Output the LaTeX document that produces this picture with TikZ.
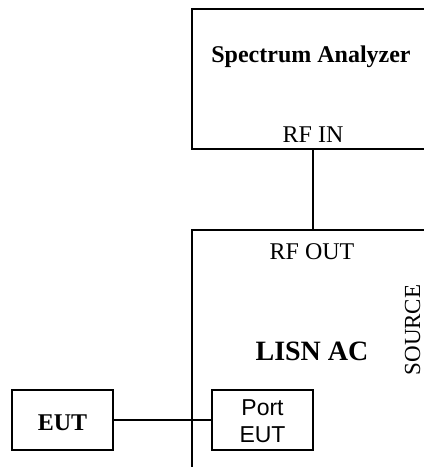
\documentclass[tikz,border=0pt]{standalone}
\usepackage{fontspec}
\setmainfont{Liberation Serif}
\newfontfamily\armfont{Liberation Sans}
\usetikzlibrary{positioning, calc}

\begin{document}
\begin{tikzpicture}[
    x=1pt, y=-1pt,
    unitbox/.style={rectangle, draw=black, line width=1.5pt, fill=white,
                 inner sep=0pt},
    title/.style={font=\fontsize{24}{26}\selectfont\bfseries, anchor=base,
                 inner sep=0pt},
    portlbl/.style={font=\fontsize{24}{26}\selectfont, anchor=base,
                 inner sep=0pt},
    wire/.style={draw=black, line width=1.5pt},
  ]
    \useasboundingbox (0,0) rectangle (424,467);
    \clip (0,0) rectangle (424,467);

    \node[unitbox, minimum width=260pt, minimum height=140pt] (sa) at (322,79) {};
    \node[unitbox, minimum width=260pt, minimum height=260pt] (lisn) at (322,360) {};
    \node[unitbox, minimum width=101pt, minimum height=60pt] (port) at (262.5,420) {};
    \node[unitbox, minimum width=101pt, minimum height=60pt] (eut) at (62.5,420) {};

    \node[title] (satxt) at (311,62) {Spectrum Analyzer};
    \node[portlbl] (rfin) at (313,142) {RF IN};
    \node[portlbl] (rfout) at (312,259) {RF OUT};
    \node[title, font=\fontsize{28}{30}\selectfont\bfseries] (lisntxt) at (312,360) {LISN AC};
    \node[portlbl, font=\fontsize{23}{26}\selectfont, rotate=90] (src) at (420,330) {SOURCE};
    \node[title] (euttxt) at (62.5,430) {EUT};
    \node[portlbl, font=\armfont\fontsize{23}{26}\selectfont] (porttxt) at (262.5,415) {Port};
    \node[portlbl, font=\armfont\fontsize{23}{26}\selectfont] (porttxt2) at (262.5,442) {EUT};

    \coordinate (tap) at (313,0);
    \draw[wire] (tap |- sa.south) -- (tap |- lisn.north);
    \draw[wire] (eut.east) -- (port.west);
  \end{tikzpicture}
\end{document}
